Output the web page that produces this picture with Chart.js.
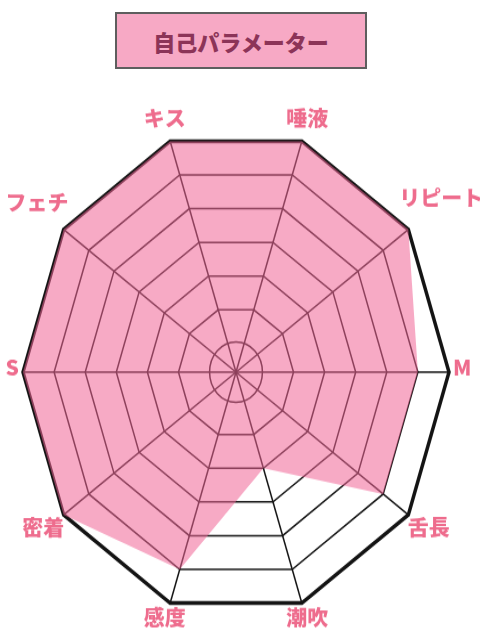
<!DOCTYPE html>
<html><head><meta charset="utf-8">
<script src="https://cdn.jsdelivr.net/npm/chart.js@4.4.1/dist/chart.umd.min.js"></script>
<style>
html,body{margin:0;padding:0;background:#fff;width:480px;height:640px;overflow:hidden;}
#title{position:absolute;left:115px;top:12px;width:248px;height:53px;border:2px solid #5e5e5e;background:#f7a9c5;color:#8c3458;font:900 22px "Noto Sans CJK JP",sans-serif;display:flex;align-items:center;justify-content:center;}
#wrap{position:absolute;left:0;top:86px;width:480px;height:500px;transform:scaleY(1.14);transform-origin:0 0;}
</style></head><body>
<div id="title"></div>
<div id="wrap"><canvas id="c"></canvas></div>
<script>
const titleText = '自己パラメーター';
const categories = ['キス','唾液','リピート','M','舌長','潮吹','感度','密着','S','フェチ'];
const values = [7,7,7,6,6,3,6,7,7,7];
const scaleMin = 0.15, scaleMax = 7, scaleStep = 1;

const SY = 1.14;
const gridColor = '#141414';
const labelColor = '#ee6c8d';
document.getElementById('title').textContent = titleText;

const innerCircle = {
  id: 'innerCircle',
  beforeDatasetsDraw(chart) {
    const s = chart.scales.r, ctx = chart.ctx;
    const d = s.getDistanceFromCenterForValue(scaleStep);
    ctx.save();
    ctx.beginPath();
    ctx.arc(s.xCenter, s.yCenter, d, 0, Math.PI * 2);
    ctx.lineWidth = 1.5;
    ctx.strokeStyle = gridColor;
    ctx.stroke();
    ctx.restore();
  }
};

const axisLabels = {
  id: 'axisLabels',
  afterDatasetsDraw(chart) {
    const s = chart.scales.r, ctx = chart.ctx;
    const R = s.drawingArea;
    ctx.save();
    ctx.font = '900 21px "Noto Sans CJK JP", sans-serif';
    ctx.fillStyle = labelColor;
    ctx.textAlign = 'center';
    ctx.textBaseline = 'middle';
    chart.data.labels.forEach((lab, i) => {
      const a = s.getIndexAngle(i) - Math.PI / 2;
      const vx = Math.cos(a), vy = Math.sin(a) * SY;
      const len = Math.hypot(vx, vy);
      const ux = vx / len, uy = vy / len;
      const w = ctx.measureText(lab).width, h = 20;
      const ext = 4 + (w / 2) * Math.abs(ux) + (h / 2) * Math.abs(uy);
      const px = R * vx + ext * ux;
      const py = R * vy + ext * uy - 5;
      ctx.save();
      ctx.translate(s.xCenter + px, s.yCenter + py / SY);
      ctx.scale(1, 1 / SY);
      ctx.fillText(lab, 0, 0);
      ctx.restore();
    });
    ctx.restore();
  }
};

new Chart(document.getElementById('c'), {
  type: 'radar',
  data: {
    labels: categories,
    datasets: [{
      data: values,
      backgroundColor: 'rgba(240,100,150,0.55)',
      borderWidth: 0,
      pointRadius: 0,
      fill: true
    }]
  },
  options: {
    responsive: true,
    maintainAspectRatio: false,
    animation: false,
    layout: { padding: { left: 23, right: 31, top: 38, bottom: 36 } },
    plugins: { legend: { display: false }, tooltip: { enabled: false } },
    scales: {
      r: {
        min: scaleMin,
        max: scaleMax,
        startAngle: -18,
        ticks: { display: false, stepSize: scaleStep, includeBounds: false },
        grid: { color: gridColor, lineWidth: c => (c.tick && c.tick.value === scaleMax) ? 3.5 : 1.5 },
        angleLines: { color: gridColor, lineWidth: 1.5 },
        pointLabels: { display: false }
      }
    }
  },
  plugins: [innerCircle, axisLabels]
});
</script>
</body></html>
